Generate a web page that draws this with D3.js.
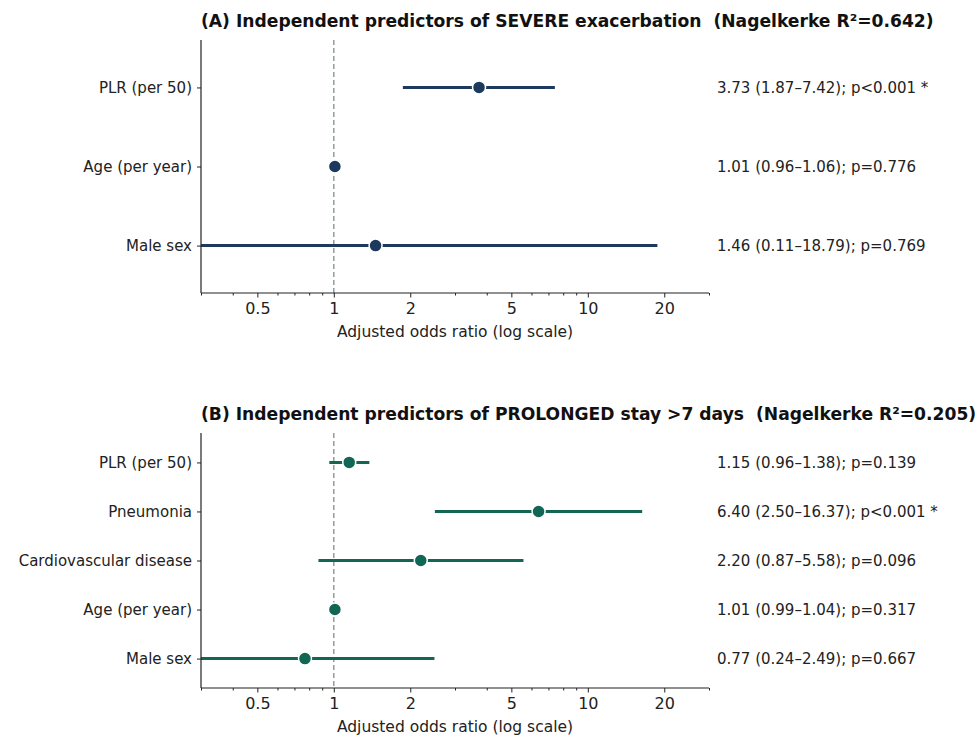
<!DOCTYPE html>
<html><head><meta charset="utf-8">
<script src="https://cdn.jsdelivr.net/npm/d3@7"></script>
<style>body{margin:0;background:#fff}text{font-family:"DejaVu Sans",sans-serif;white-space:pre}</style>
</head><body>
<svg id="c" width="979" height="736"></svg>
<script>
const catsA = ["PLR (per 50)", "Age (per year)", "Male sex"];
const orA = [3.73, 1.01, 1.46];
const loA = [1.87, 0.96, 0.11];
const hiA = [7.42, 1.06, 18.79];
const labA = ["3.73 (1.87–7.42); p<0.001 *", "1.01 (0.96–1.06); p=0.776", "1.46 (0.11–18.79); p=0.769"];
const titleA = "(A) Independent predictors of SEVERE exacerbation  (Nagelkerke R²=0.642)";

const catsB = ["PLR (per 50)", "Pneumonia", "Cardiovascular disease", "Age (per year)", "Male sex"];
const orB = [1.15, 6.40, 2.20, 1.01, 0.77];
const loB = [0.96, 2.50, 0.87, 0.99, 0.24];
const hiB = [1.38, 16.37, 5.58, 1.04, 2.49];
const labB = ["1.15 (0.96–1.38); p=0.139", "6.40 (2.50–16.37); p<0.001 *", "2.20 (0.87–5.58); p=0.096", "1.01 (0.99–1.04); p=0.317", "0.77 (0.24–2.49); p=0.667"];
const titleB = "(B) Independent predictors of PROLONGED stay >7 days  (Nagelkerke R²=0.205)";

const majorTicks = [0.5, 1, 2, 5, 10, 20];
const xDomain = [0.3, 30];
const xLabel = "Adjusted odds ratio (log scale)";

const svg = d3.select("#c");
const L = 201, R = 709;

function panel(id, top, bottom, cats, or, lo, hi, labs, title, color) {
  const g = svg.append("g");
  const x = d3.scaleLog().domain(xDomain).range([L, R]);
  const n = cats.length;
  const y = d3.scaleLinear().domain([-0.6, n - 0.4]).range([top, bottom]);
  const clip = "clip" + id;
  svg.append("clipPath").attr("id", clip).append("rect")
    .attr("x", L).attr("y", top).attr("width", R - L).attr("height", bottom - top);

  g.append("line").attr("x1", x(1)).attr("x2", x(1)).attr("y1", top).attr("y2", bottom)
    .attr("stroke", "#7f8c8d").attr("stroke-width", 1.3).attr("stroke-dasharray", "5,3");

  const d = cats.map((c, i) => ({c, or: or[i], lo: lo[i], hi: hi[i], lab: labs[i], i}));
  const pg = g.append("g").attr("clip-path", `url(#${clip})`);
  pg.selectAll("line.ci").data(d).join("line").attr("class", "ci")
    .attr("x1", e => x(e.lo)).attr("x2", e => x(e.hi))
    .attr("y1", e => y(e.i)).attr("y2", e => y(e.i))
    .attr("stroke", color).attr("stroke-width", 3);
  pg.selectAll("circle").data(d).join("circle")
    .attr("cx", e => x(e.or)).attr("cy", e => y(e.i)).attr("r", 6.5)
    .attr("fill", color).attr("stroke", "#fff").attr("stroke-width", 1.5);

  g.selectAll("text.ann").data(d).join("text").attr("class", "ann")
    .attr("x", 717).attr("y", e => y(e.i)).attr("dy", "0.35em")
    .attr("font-size", 15).attr("fill", "#222").text(e => e.lab);

  const ya = g.append("g").attr("transform", `translate(${L},0)`)
    .call(d3.axisLeft(y).tickValues(d3.range(n)).tickFormat(i => cats[i]).tickSize(4).tickPadding(5));
  ya.select(".domain").attr("d", `M0,${top}V${bottom}`).attr("stroke", "#222").attr("stroke-width", 1.2);
  ya.selectAll("text").attr("font-size", 15).attr("fill", "#222").attr("font-family", "DejaVu Sans");
  ya.selectAll("line").attr("stroke", "#222");

  const minor = [0.3,0.4,0.6,0.7,0.8,0.9,3,4,6,7,8,9,30];
  const xm = g.append("g").attr("transform", `translate(0,${bottom})`)
    .call(d3.axisBottom(x).tickValues(minor).tickFormat("").tickSize(2.5));
  xm.select(".domain").remove();
  xm.selectAll("line").attr("stroke", "#222");
  const xa = g.append("g").attr("transform", `translate(0,${bottom})`)
    .call(d3.axisBottom(x).tickValues(majorTicks).tickFormat(v => String(v)).tickSize(4.5).tickPadding(5));
  xa.select(".domain").attr("d", `M${L},0H${R}`).attr("stroke", "#222").attr("stroke-width", 1.2);
  xa.selectAll("text").attr("font-size", 16).attr("fill", "#222").attr("font-family", "DejaVu Sans");
  xa.selectAll("line").attr("stroke", "#222");

  g.append("text").attr("x", (L + R) / 2).attr("y", bottom + 44).attr("text-anchor", "middle")
    .attr("font-size", 15.5).attr("fill", "#222").text(xLabel);

  g.append("text").attr("x", L).attr("y", top - 13).attr("font-size", 17.15).attr("font-weight", "bold")
    .attr("fill", "#111").text(title);
}

panel("A", 40, 293, catsA, orA, loA, hiA, labA, titleA, "#1d3a5e");
panel("B", 433, 688, catsB, orB, loB, hiB, labB, titleB, "#126654");
</script>
</body></html>
